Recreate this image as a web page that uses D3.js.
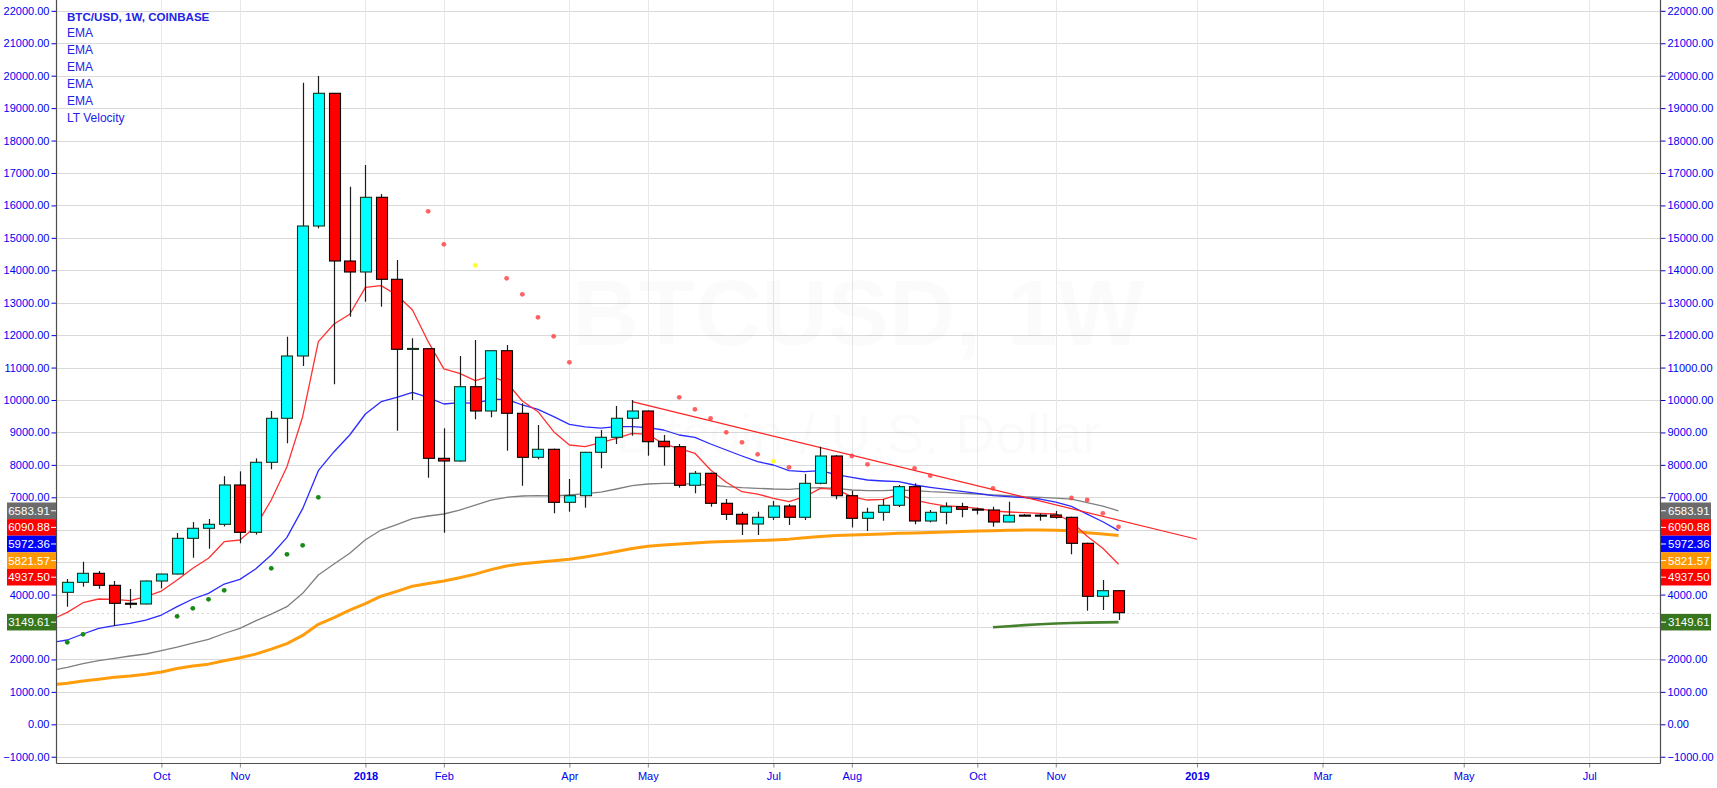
<!DOCTYPE html>
<html><head><meta charset="utf-8">
<script src="https://cdn.jsdelivr.net/npm/d3@7"></script>
<style>html,body{margin:0;padding:0;background:#fff;overflow:hidden}text{font-family:"Liberation Sans",Arial,sans-serif}</style>
</head><body>
<svg id="chart" width="1717" height="788"></svg>
<script>
// ---------- DATA ----------
const candleDates = ["2017-08-21","2017-08-28","2017-09-04","2017-09-11","2017-09-18","2017-09-25","2017-10-02","2017-10-09","2017-10-16","2017-10-23","2017-10-30","2017-11-06","2017-11-13","2017-11-20","2017-11-27","2017-12-04","2017-12-11","2017-12-18","2017-12-25",
"2018-01-01","2018-01-08","2018-01-15","2018-01-22","2018-01-29","2018-02-05","2018-02-12","2018-02-19","2018-02-26","2018-03-05","2018-03-12","2018-03-19","2018-03-26","2018-04-02","2018-04-09","2018-04-16","2018-04-23","2018-04-30","2018-05-07","2018-05-14","2018-05-21","2018-05-28","2018-06-04","2018-06-11","2018-06-18","2018-06-25","2018-07-02","2018-07-09","2018-07-16","2018-07-23","2018-07-30","2018-08-06","2018-08-13","2018-08-20","2018-08-27","2018-09-03","2018-09-10","2018-09-17","2018-09-24","2018-10-01","2018-10-08","2018-10-15","2018-10-22","2018-10-29","2018-11-05","2018-11-12","2018-11-19","2018-11-26","2018-12-03"];
const openVals  = [4070,4378,4656,4286,3733,3710,4419,4634,5735,6044,6167,7380,5920,8079,9436,11357,15365,19457,14286,13947,16250,13722,11570,11582,8202,8119,10410,9661,11520,9590,8233,8480,6845,7049,8387,8850,9436,9661,8727,8560,7370,7740,6815,6475,6176,6383,6731,6383,7431,8273,7049,6352,6537,6753,7327,6269,6537,6710,6635,6608,6238,6450,6450,6454,6383,5581,3947,4120];
const highVals  = [4480,5014,4727,4419,4172,4430,4640,5899,6238,6331,7650,7800,8200,9661,11952,19785,19991,19470,16577,17247,16352,14317,11903,11600,9127,11357,11850,11530,11696,9900,9229,8500,7564,8400,9075,9815,10000,9680,8921,8643,7811,7760,6947,6550,6556,6886,6790,7718,8560,8300,7203,6679,6947,7379,7431,6608,6845,6833,6680,6710,6864,6480,6500,6577,6400,5600,4450,4130];
const lowVals   = [3626,4243,4181,3031,3577,3700,4193,4620,5137,5415,6100,5581,5850,7863,8665,11048,15294,10484,12568,13031,12877,9053,10000,7604,5908,8100,9405,9466,8437,7357,8171,6506,6556,6679,7894,8643,8899,8282,7974,7296,7123,6710,6300,5837,5837,6300,6146,6300,7400,6938,6070,5961,6278,6700,6167,6228,6167,6383,6475,6093,6230,6420,6278,6340,5242,3503,3524,3216];
const closeVals = [4378,4656,4286,3731,3728,4419,4634,5735,6044,6167,7380,5920,8079,9436,11357,15365,19457,14286,13947,16250,13722,11563,11590,8202,8119,10410,9661,11520,9590,8233,8480,6845,7049,8387,8850,9436,9661,8714,8560,7370,7740,6815,6475,6176,6383,6731,6383,7431,8273,7049,6352,6537,6753,7327,6269,6537,6710,6630,6630,6238,6445,6445,6445,6383,5581,3947,4120,3441];

// EMA lines start one week earlier (the off-screen week of 2017-08-14)
const emaStartDate = "2017-08-14";
const emaFast = [3230,3450,3750,3864,3854,3811,3935,4110,4450,4810,5119,5631,5683,6093,6916,7944,9485,11798,12344,12643,13475,13525,13238,12775,11798,10960,10823,10595,10740,10546,9969,9639,9023,8613,8560,8684,8819,8973,8942,8643,8511,8356,7842,7462,7172,7101,6969,6864,7018,7277,7246,7018,6916,6938,7092,6916,6815,6731,6710,6660,6577,6546,6525,6506,6485,6247,5800,5427,4937.50];
const emaMid  = [2520,2600,2785,2960,3041,3114,3216,3370,3627,3864,4039,4326,4470,4789,5220,5766,6650,7820,8406,8921,9568,9948,10083,10237,10083,9877,9917,9898,10022,10022,9846,9713,9485,9251,9170,9130,9177,9177,9146,9075,8921,8850,8643,8458,8273,8098,7996,7820,7789,7820,7700,7616,7533,7502,7481,7379,7308,7246,7185,7123,7049,7018,6987,6947,6850,6720,6480,6247,5972.36];
const emaSlow = [1660,1758,1869,1961,2035,2106,2168,2270,2380,2500,2620,2800,2960,3190,3400,3627,4039,4604,4943,5273,5690,5991,6160,6340,6423,6485,6608,6762,6916,7000,7040,7049,7040,7071,7110,7160,7256,7358,7410,7431,7431,7400,7379,7327,7296,7277,7256,7246,7280,7296,7277,7225,7203,7203,7225,7203,7172,7154,7123,7101,7071,7049,7018,7000,6975,6945,6833,6731,6583.91];
const emaLong = [1215,1264,1335,1388,1449,1489,1542,1613,1720,1800,1855,1960,2055,2165,2320,2490,2740,3085,3290,3520,3720,3950,4100,4260,4340,4420,4520,4630,4770,4880,4950,5000,5040,5090,5160,5240,5330,5420,5490,5530,5560,5590,5620,5635,5650,5665,5683,5710,5750,5790,5820,5837,5855,5870,5890,5900,5915,5930,5945,5960,5970,5980,5988,5991,5985,5965,5905,5865,5821.57];

// LT Velocity
const velDates  = ["2018-10-08","2018-10-15","2018-10-22","2018-10-29","2018-11-05","2018-11-12","2018-11-19","2018-11-26","2018-12-03"];
const velValues = [2991,3025,3058,3085,3108,3125,3135,3143,3149.61];

// trend line
const trendDates  = ["2018-04-30","2019-01-07"];
const trendValues = [9950,5705];

// dots
const greenDotDates  = ["2017-08-21","2017-08-28","2017-10-09","2017-10-16","2017-10-23","2017-10-30","2017-11-20","2017-11-27","2017-12-04","2017-12-11"];
const greenDotValues = [2528,2775,3330,3577,3854,4132,4810,5242,5520,7000];
const redDotDates  = ["2018-01-29","2018-02-05","2018-03-05","2018-03-12","2018-03-19","2018-03-26","2018-04-02","2018-05-21","2018-05-28","2018-06-04","2018-06-11","2018-06-18","2018-06-25","2018-07-09","2018-08-06","2018-08-13","2018-09-03","2018-09-10","2018-10-08","2018-11-12","2018-11-19","2018-11-26","2018-12-03"];
const redDotValues = [15818,14801,13753,13259,12550,11964,11162,10083,9713,9436,9004,8696,8326,7925,8273,8017,7894,7666,7277,6978,6916,6506,6090.88];
const yellowDotDates  = ["2018-02-19","2018-07-02"];
const yellowDotValues = [14154,8110];

// axis ticks
const yTicks = [-1000,0,1000,2000,3000,4000,5000,6000,7000,8000,9000,10000,11000,12000,13000,14000,15000,16000,17000,18000,19000,20000,21000,22000];
const xTickDates  = ["2017-10-02","2017-11-06","2018-01-01","2018-02-05","2018-04-02","2018-05-07","2018-07-02","2018-08-06","2018-10-01","2018-11-05","2019-01-07","2019-03-04","2019-05-06","2019-07-01"];
const xTickLabels = ["Oct","Nov","2018","Feb","Apr","May","Jul","Aug","Oct","Nov","2019","Mar","May","Jul"];
const xTickBold   = [false,false,true,false,false,false,false,false,false,false,true,false,false,false];

// legend
const legendTitle = "BTC/USD, 1W, COINBASE";
const legendItems = ["EMA","EMA","EMA","EMA","EMA","LT Velocity"];

// last-value labels
const lastLabelValues = [6583.91,6090.88,5972.36,5821.57,4937.50,3149.61];
const lastLabelColors = ["#6b6b6b","#ff0000","#0000ff","#ff9800","#ff0000","#38761d"];
const lastCloseValue = 3441;

// ---------- LAYOUT ----------
const W = 1717, H = 788;
const plotL = 57, plotR = 1660, plotT = 0, plotB = 763;
const parse = d3.utcParse("%Y-%m-%d");
const WEEK = 7*24*3600*1000;
const t0 = parse(candleDates[0]).getTime();
const x = d3.scaleUtc()
  .domain([new Date(t0 - 0.656*WEEK), new Date(t0 + 101.51*WEEK)])
  .range([plotL, plotR]);
const y = d3.scaleLinear().domain([-1193, 22334]).range([plotB, plotT]);

const blue = "#0000ee";
const svg = d3.select("#chart");
svg.append("rect").attr("width",W).attr("height",H).attr("fill","#fff");

svg.append("defs").append("clipPath").attr("id","plotclip")
  .append("rect").attr("x",plotL).attr("y",plotT).attr("width",plotR-plotL).attr("height",plotB-plotT);

// grid
const grid = svg.append("g");
grid.selectAll("line.h").data(yTicks).join("line")
  .attr("x1",plotL).attr("x2",plotR)
  .attr("y1",d=>Math.round(y(d))+0.5).attr("y2",d=>Math.round(y(d))+0.5)
  .attr("stroke","#d9d9d9").attr("stroke-width",1);
grid.selectAll("line.v").data(xTickDates).join("line")
  .attr("y1",plotT).attr("y2",plotB)
  .attr("x1",d=>Math.round(x(parse(d)))+0.5).attr("x2",d=>Math.round(x(parse(d)))+0.5)
  .attr("stroke","#e8e8e8").attr("stroke-width",1);

// watermark (very faint)
const wm = svg.append("g").attr("fill","#000").attr("fill-opacity",0.014).attr("text-anchor","middle");
wm.append("text").attr("x",(plotL+plotR)/2).attr("y",345).attr("font-size",92).attr("font-weight","bold").text("BTCUSD, 1W");
wm.append("text").attr("x",(plotL+plotR)/2).attr("y",453).attr("font-size",56).text("Bitcoin / U.S. Dollar");

const plot = svg.append("g").attr("clip-path","url(#plotclip)");

// last close dotted line
plot.append("line").attr("x1",plotL).attr("x2",plotR)
  .attr("y1",Math.round(y(lastCloseValue))+0.5).attr("y2",Math.round(y(lastCloseValue))+0.5)
  .attr("stroke","#d6d6d6").attr("stroke-dasharray","2,3");

// EMA lines
const emaDates = [emaStartDate].concat(candleDates).map(parse);
const lineGen = d3.line().x(d=>x(d[0])).y(d=>y(d[1]));
function drawLine(dates, vals, color, width, op) {
  plot.append("path").datum(dates.map((d,i)=>[d, vals[i]]))
    .attr("d", lineGen).attr("fill","none").attr("stroke",color)
    .attr("stroke-width",width).attr("stroke-opacity",op).attr("stroke-linejoin","round");
}
drawLine(emaDates, emaLong, "#ff9800", 3, 0.95);
drawLine(emaDates, emaSlow, "#7f7f7f", 1.3, 1);
drawLine(emaDates, emaMid, "#2b2bff", 1.3, 1);
drawLine(emaDates, emaFast, "#ff3030", 1.3, 1);
drawLine(trendDates.map(parse), trendValues, "#ff2020", 1.2, 1);
drawLine(velDates.map(parse), velValues, "#3b7a22", 2.6, 0.95);

// dots
function drawDots(dates, vals, color, op) {
  plot.append("g").selectAll("circle").data(dates.map((d,i)=>[parse(d), vals[i]])).join("circle")
    .attr("cx",d=>x(d[0])).attr("cy",d=>y(d[1])).attr("r",2.4)
    .attr("fill",color).attr("fill-opacity",op);
}
drawDots(greenDotDates, greenDotValues, "#178a17", 1);
drawDots(redDotDates, redDotValues, "#ff3b3b", 0.8);
drawDots(yellowDotDates, yellowDotValues, "#ffff2a", 1);

// candles
const candles = candleDates.map((d,i)=>({t:parse(d),o:openVals[i],h:highVals[i],l:lowVals[i],c:closeVals[i]}));
const step = x(new Date(t0+WEEK)) - x(new Date(t0));
const bw = Math.round(step*0.68);
const cg = plot.append("g");
cg.selectAll("line").data(candles).join("line")
  .attr("x1",d=>Math.round(x(d.t))+0.5).attr("x2",d=>Math.round(x(d.t))+0.5)
  .attr("y1",d=>y(d.h)).attr("y2",d=>y(d.l))
  .attr("stroke","#1c1c1c").attr("stroke-width",1.2);
cg.selectAll("rect").data(candles).join("rect")
  .attr("x",d=>Math.round(x(d.t)-bw/2)+0.5)
  .attr("width",bw)
  .attr("y",d=>Math.min(y(d.o),y(d.c)))
  .attr("height",d=>Math.max(1,Math.abs(y(d.o)-y(d.c))))
  .attr("fill",d=>d.c>=d.o?"#00ffff":"#ff0000")
  .attr("stroke",d=>d.c>=d.o?"#17331a":"#000")
  .attr("stroke-width",1.1);

// last value label positions (stacked to avoid overlap)
const lh = 16.6;
const order = lastLabelValues.map((v,i)=>i).sort((a,b)=>lastLabelValues[b]-lastLabelValues[a]);
let prevBottom = -Infinity;
const tops = [];
order.forEach(i=>{
  let top = y(lastLabelValues[i]) - lh/2;
  if (top < prevBottom) top = prevBottom;
  tops[i] = top; prevBottom = top + lh;
});
function coveredByLabel(v){
  const yy = y(v);
  return tops.some(t => yy > t - 3 && yy < t + lh + 3);
}

// axes
const fmt = d3.format(".2f");
const yl = svg.append("g").attr("transform",`translate(${plotL-0.5},0)`)
  .call(d3.axisLeft(y).tickValues(yTicks).tickFormat(fmt).tickSize(5).tickPadding(2));
const yr = svg.append("g").attr("transform",`translate(${plotR+0.5},0)`)
  .call(d3.axisRight(y).tickValues(yTicks).tickFormat(fmt).tickSize(5).tickPadding(2));
[yl,yr].forEach(g=>{
  g.select(".domain").remove();
  g.selectAll(".tick line").attr("stroke",blue);
  g.selectAll(".tick text").attr("fill",blue).attr("font-size",11).attr("font-family","Liberation Sans, Arial, sans-serif");
  g.selectAll(".tick").filter(d=>coveredByLabel(d)).select("text").remove();
});
const xa = svg.append("g").attr("transform",`translate(0,${plotB+0.5})`)
  .call(d3.axisBottom(x).tickValues(xTickDates.map(parse)).tickFormat((d,i)=>xTickLabels[i]).tickSize(4).tickPadding(5));
xa.select(".domain").remove();
xa.selectAll(".tick line").attr("stroke","#888");
xa.selectAll(".tick text").attr("fill",blue).attr("font-size",11)
  .attr("font-family","Liberation Sans, Arial, sans-serif")
  .attr("font-weight",(d,i)=>xTickBold[i]?"bold":"normal");

// frame lines
const frame = svg.append("g").attr("stroke","#4d4d4d").attr("stroke-width",1.2);
frame.append("line").attr("x1",plotL-0.5).attr("x2",plotL-0.5).attr("y1",0).attr("y2",plotB+0.5);
frame.append("line").attr("x1",plotR+0.5).attr("x2",plotR+0.5).attr("y1",0).attr("y2",plotB+0.5);
frame.append("line").attr("x1",plotL-0.5).attr("x2",plotR+0.5).attr("y1",plotB+0.5).attr("y2",plotB+0.5);

// last value labels
const lg = svg.append("g");
lastLabelValues.forEach((v,i)=>{
  // left
  lg.append("rect").attr("x",7).attr("y",tops[i]).attr("width",plotL-7-1).attr("height",lh).attr("fill",lastLabelColors[i]);
  lg.append("text").attr("x",29).attr("y",tops[i]+lh/2+4).attr("text-anchor","middle")
    .attr("fill","#fff").attr("font-size",11.5).text(fmt(v));
  lg.append("line").attr("x1",plotL-6).attr("x2",plotL-1).attr("y1",tops[i]+lh/2).attr("y2",tops[i]+lh/2).attr("stroke","#fff");
  // right
  lg.append("rect").attr("x",plotR+1).attr("y",tops[i]).attr("width",50).attr("height",lh).attr("fill",lastLabelColors[i]);
  lg.append("line").attr("x1",plotR+1).attr("x2",plotR+6).attr("y1",tops[i]+lh/2).attr("y2",tops[i]+lh/2).attr("stroke","#fff");
  lg.append("text").attr("x",plotR+8).attr("y",tops[i]+lh/2+4)
    .attr("fill","#fff").attr("font-size",11.5).text(fmt(v));
});

// legend
const leg = svg.append("g").attr("fill","#2323e6");
leg.append("text").attr("x",67).attr("y",20.5).attr("font-size",11.6).attr("font-weight","bold").text(legendTitle);
legendItems.forEach((t,i)=>{
  leg.append("text").attr("x",67).attr("y",37.3+i*16.85).attr("font-size",12).text(t);
});
</script>
</body></html>
